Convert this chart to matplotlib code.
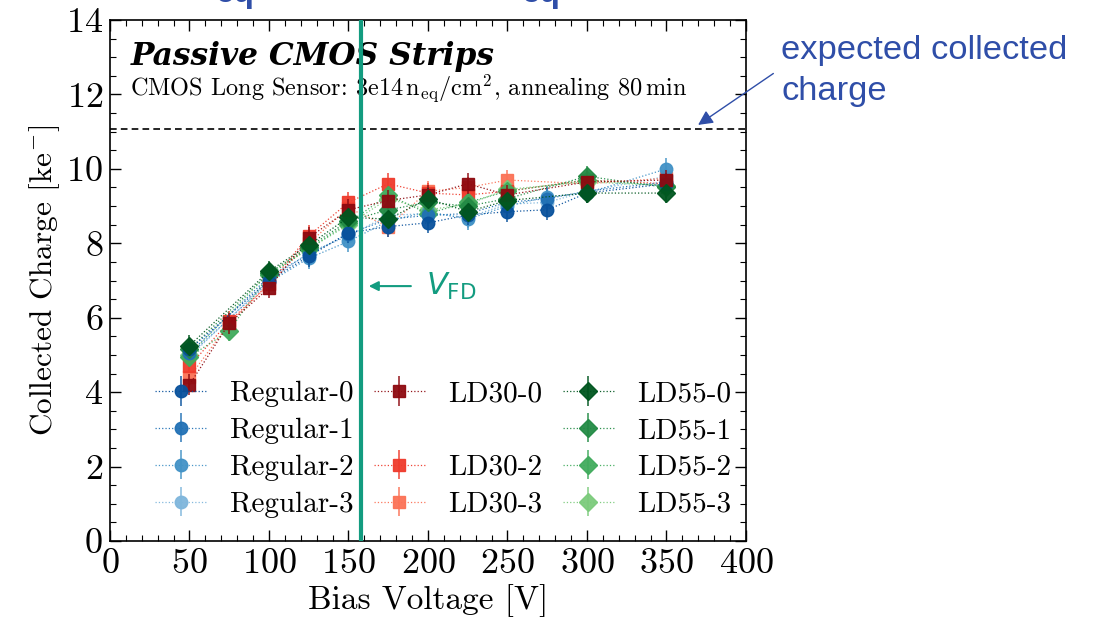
# -*- coding: utf-8 -*-
# Collected charge vs bias voltage - passive CMOS strips
import matplotlib
matplotlib.use('Agg')
import matplotlib.pyplot as plt
from matplotlib.lines import Line2D
from matplotlib.patches import FancyArrowPatch
from matplotlib.ticker import MultipleLocator

plt.rcParams['font.family'] = 'serif'
plt.rcParams['font.serif'] = ['cmr10']
plt.rcParams['mathtext.fontset'] = 'cm'
plt.rcParams['axes.formatter.use_mathtext'] = True

# %% Data
volt_reg = [50, 100, 125, 150, 175, 200, 225, 250, 275, 300, 350]
volt_ld30 = [50, 75, 100, 125, 150, 175, 200, 225, 250, 300, 350]
volt_ld55 = [50, 100, 125, 150, 175, 200, 225, 250, 300, 350]
volt_ld55_2 = [50, 75, 100, 125, 150, 175, 200, 225, 250, 300, 350]

reg0 = [5.15, 7.00, 7.65, 8.28, 8.45, 8.55, 8.76, 8.85, 8.90, 9.35, 9.60]
reg1 = [5.05, 7.10, 7.70, 8.25, 8.65, 8.75, 8.80, 9.10, 9.20, 9.40, 9.65]
reg2 = [5.00, 6.95, 7.60, 8.05, 8.60, 8.85, 8.65, 9.00, 9.25, 9.35, 10.00]
reg3 = [4.95, 7.00, 7.75, 8.20, 8.75, 8.80, 8.70, 9.05, 9.10, 9.40, 9.80]

ld30_0 = [4.20, 5.85, 6.80, 8.15, 8.90, 9.15, 9.30, 9.60, 9.30, 9.65, 9.70]
ld30_2 = [4.70, 5.90, 6.90, 8.20, 9.10, 9.60, 9.35, 9.30, 9.40, 9.70, 9.60]
ld30_3 = [4.40, 5.85, 6.90, 8.00, 8.95, 8.45, 9.40, 9.50, 9.70, 9.60, 9.75]

ld55_0 = [5.25, 7.25, 7.95, 8.70, 8.65, 9.20, 8.85, 9.15, 9.35, 9.35]
ld55_1 = [5.15, 7.20, 7.90, 8.60, 8.90, 9.10, 9.00, 9.20, 9.80, 9.50]
ld55_2 = [4.95, 5.65, 7.15, 7.85, 8.55, 9.30, 8.80, 9.10, 9.40, 9.70, 9.55]
ld55_3 = [5.00, 7.20, 7.85, 8.50, 9.20, 8.90, 9.05, 9.45, 9.65, 9.55]

err_charge = 0.28        # half-length of the error bars (ke-)
expected_charge = 11.07  # dashed line
v_fd = 158               # full depletion voltage

series = [
    ('Regular-0', volt_reg, reg0, 'o', '#08519c'),
    ('Regular-1', volt_reg, reg1, 'o', '#2171b5'),
    ('Regular-2', volt_reg, reg2, 'o', '#4292c6'),
    ('Regular-3', volt_reg, reg3, 'o', '#7fb6dc'),
    ('LD30-0', volt_ld30, ld30_0, 's', '#8e0a10'),
    (None, None, None, None, None),
    ('LD30-2', volt_ld30, ld30_2, 's', '#ef3b2c'),
    ('LD30-3', volt_ld30, ld30_3, 's', '#fb7256'),
    ('LD55-0', volt_ld55, ld55_0, 'D', '#00561f'),
    ('LD55-1', volt_ld55, ld55_1, 'D', '#238b45'),
    ('LD55-2', volt_ld55_2, ld55_2, 'D', '#41ab5d'),
    ('LD55-3', volt_ld55, ld55_3, 'D', '#7ccb7c'),
]

# %% Figure
fig = plt.figure(figsize=(10.94, 6.2), dpi=100)
ax = fig.add_axes([0.1005, 0.1274, 0.5814, 0.8403])

handles = []
labels = []
for i, (lab, xs, ys, mk, col) in enumerate(series):
    if lab is None:
        handles.append(Line2D([], [], linestyle='none'))
        labels.append(' ')
        continue
    # darker shades drawn on top
    h = ax.errorbar(xs, ys, yerr=err_charge, fmt=mk, color=col, ms=9,
                    ls=':', lw=0.9, elinewidth=1.3, capsize=0, alpha=0.95,
                    zorder=3 + (3 - i % 4) * 0.1 + (i // 4) * 0.01)
    h[2][0].set_alpha(0.8)
    handles.append(h)
    labels.append(lab)

ax.axhline(expected_charge, color='k', ls='--', lw=1.2, dashes=(4, 2.5))
ax.axvline(v_fd, color='#139c80', lw=3, zorder=10)

ax.set_xlim(0, 400)
ax.set_ylim(0, 14)
ax.xaxis.set_major_locator(MultipleLocator(50))
ax.xaxis.set_minor_locator(MultipleLocator(10))
ax.yaxis.set_major_locator(MultipleLocator(2))
ax.yaxis.set_minor_locator(MultipleLocator(0.5))
ax.tick_params(which='both', direction='in', top=True, right=True, labelsize=26)
ax.tick_params(which='major', length=8, width=1, pad=5)
ax.tick_params(which='minor', length=4, width=0.8)
for s in ax.spines.values():
    s.set_linewidth(1.2)

ax.set_xlabel('Bias Voltage [V]', fontsize=24, labelpad=3)
ax.set_ylabel(r'Collected Charge [ke$^{-}$]', fontsize=22.5, labelpad=3)

ax.text(0.033, 0.93, 'Passive CMOS Strips', transform=ax.transAxes,
        fontfamily='DejaVu Serif', fontstyle='italic', fontweight='bold', fontsize=22.5,
        va='center', ha='left')
ax.text(0.031, 0.867, r'CMOS Long Sensor: 3e14$\,\mathrm{n_{eq}/cm^2}$, annealing 80$\,$min',
        transform=ax.transAxes, fontsize=17.5, va='center', ha='left')

ax.legend(handles, labels, ncol=3, loc='lower left', bbox_to_anchor=(0.03, -0.006),
          frameon=False, fontsize=21, handlelength=1.75, columnspacing=0.7,
          labelspacing=0.36, handletextpad=0.8)

# V_FD arrow and label
ax.annotate('', xy=(161, 6.85), xytext=(191, 6.85),
            arrowprops=dict(arrowstyle='-|>', color='#139c80', lw=1.5, mutation_scale=14))
ax.text(199, 6.85, r'$V_{\mathrm{FD}}$', color='#139c80', fontsize=22, va='center',
        ha='left', math_fontfamily='dejavusans', fontfamily='Liberation Sans')

# slide annotation
blue = '#2f4ea8'
fig.text(0.714, 0.885, 'expected collected\ncharge', color=blue, fontsize=24.8,
         fontfamily='Liberation Sans', va='center', ha='left', linespacing=1.4)
fig.patches.append(FancyArrowPatch(
    (0.709, 0.884), (0.636, 0.796), transform=fig.transFigure, figure=fig,
    arrowstyle='-|>', mutation_scale=22, color=blue, lw=1.0))

# cut-off slide title fragments
fig.text(0.197, 0.997, 'eq', color=blue, fontsize=24, fontweight='bold',
         fontfamily='Liberation Sans', va='baseline', ha='left')
fig.text(0.477, 0.997, 'eq', color=blue, fontsize=24, fontweight='bold',
         fontfamily='Liberation Sans', va='baseline', ha='left')

fig.savefig('out.png', dpi=100)
